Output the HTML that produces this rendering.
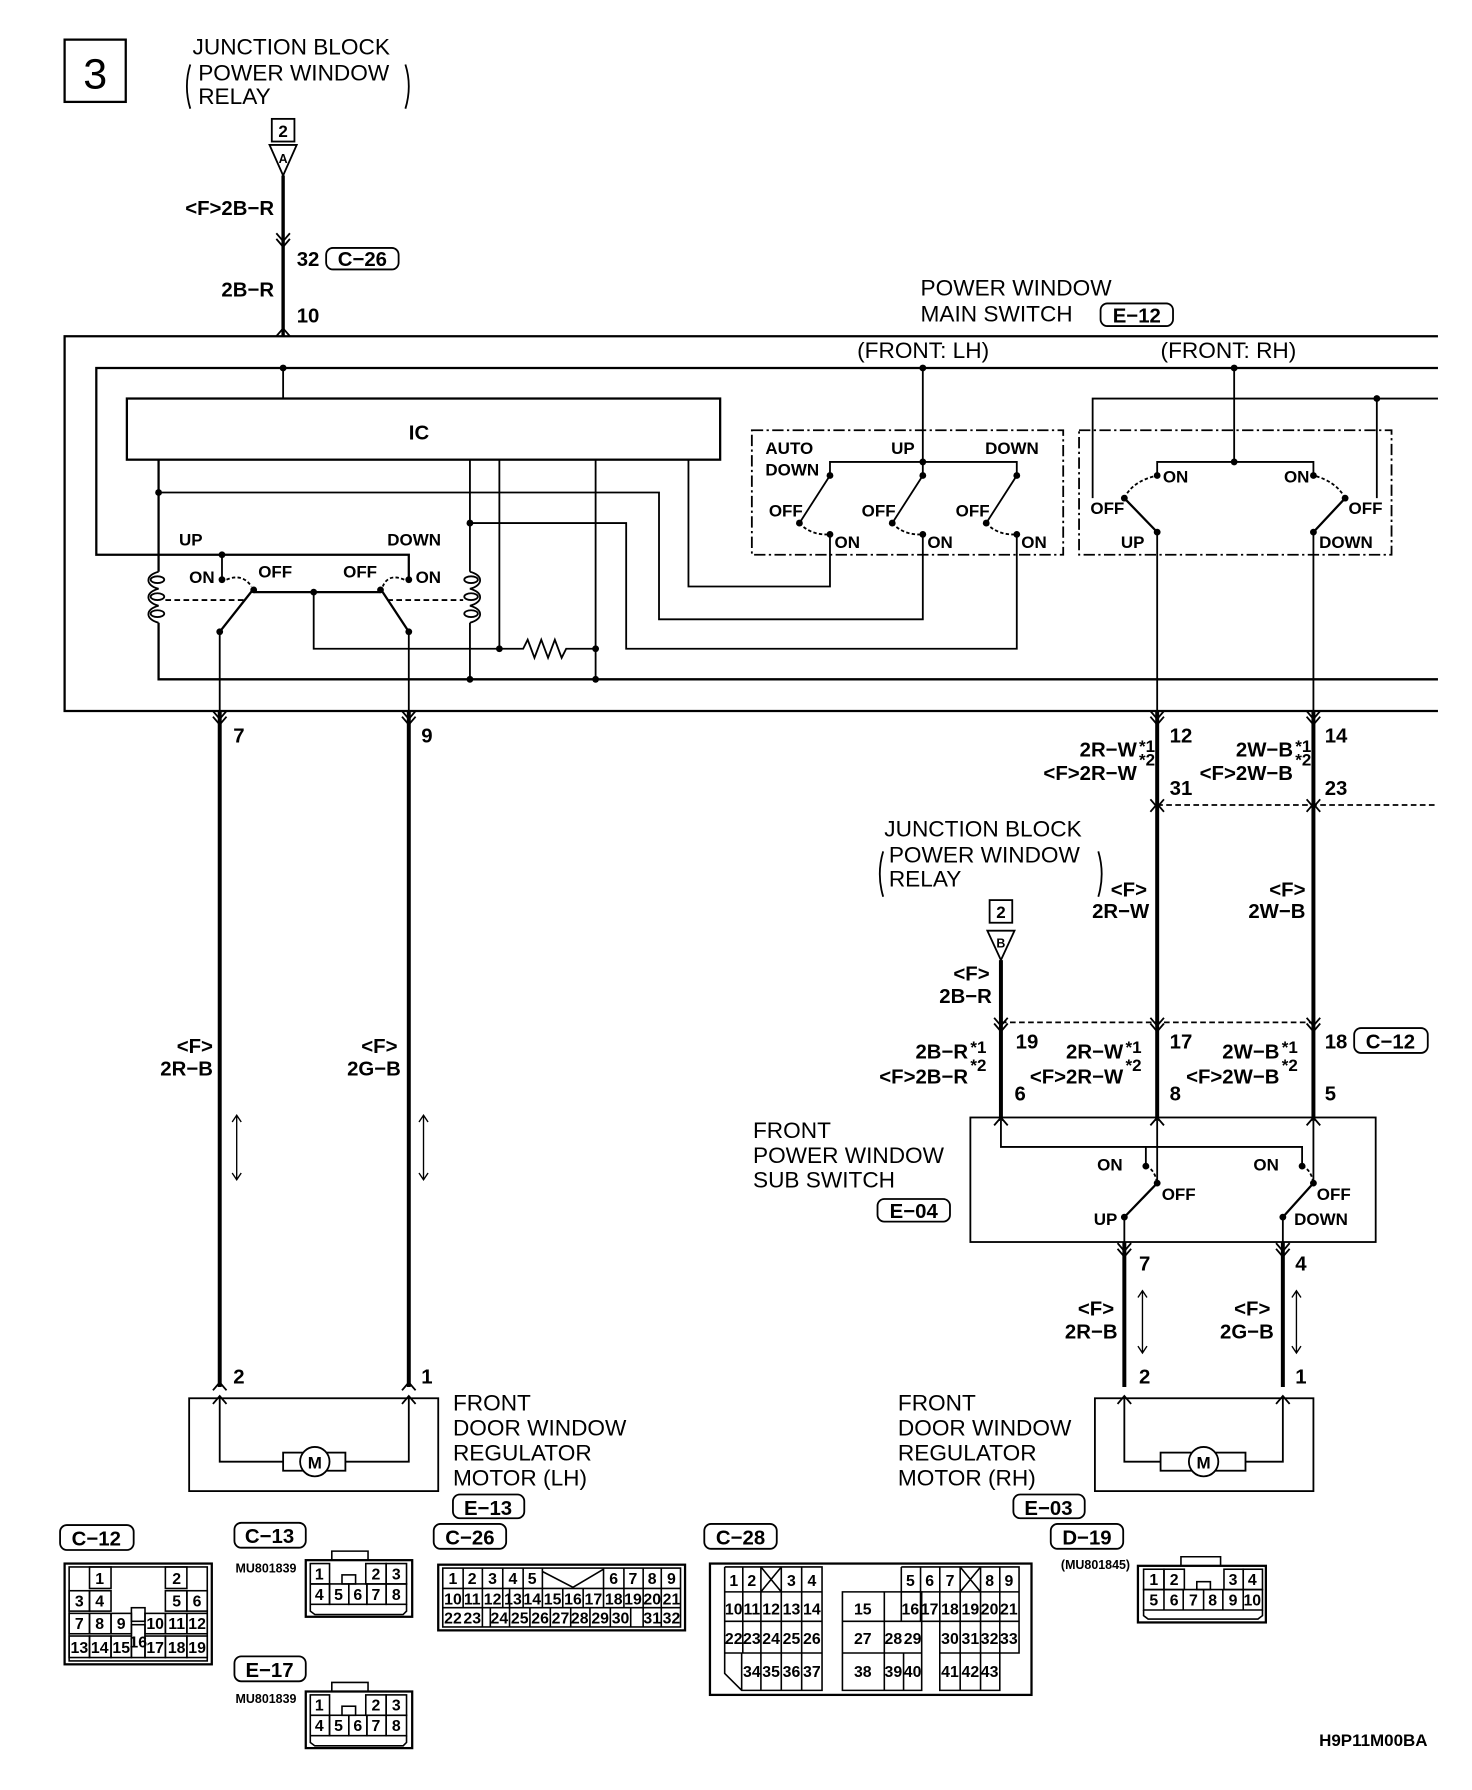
<!DOCTYPE html>
<html><head><meta charset="utf-8"><style>
html,body{margin:0;padding:0;background:#fff}
svg{display:block}
.t{font-family:"Liberation Sans",sans-serif;font-size:20px;fill:#000}
.b{font-family:"Liberation Sans Narrow","Liberation Sans",sans-serif;font-weight:bold;font-size:18px;fill:#000}
.s{font-family:"Liberation Sans Narrow","Liberation Sans",sans-serif;font-weight:bold;font-size:15px;fill:#000}
.xs{font-family:"Liberation Sans Narrow","Liberation Sans",sans-serif;font-weight:bold;font-size:11px;fill:#000}
.c{font-family:"Liberation Sans Narrow","Liberation Sans",sans-serif;font-weight:bold;font-size:14px;fill:#000;text-anchor:middle}
</style></head><body>
<svg width="1472" height="1790" viewBox="0 0 1300 1581" xmlns="http://www.w3.org/2000/svg">
<g fill="none" stroke="#000" stroke-width="1.6">
<!-- 3 box -->
<rect x="57" y="35" width="54" height="55" stroke-width="2"/>
<!-- top junction block -->
<path d="M168 57 Q162 76 168 96 M358 57 Q364 76 358 96"/>
<rect x="240" y="105" width="20" height="20"/>
<path d="M238 128 L262 128 L250 155 Z"/>
<path d="M250 155 V297" stroke-width="3"/>
<path d="M244 206 L250 213 L256 206 M244 211 L250 218 L256 211"/>
<path d="M244 297 L250 290 L256 297"/>
<rect x="288" y="219" width="64" height="19" rx="6"/>
<rect x="972" y="268" width="64" height="20" rx="6"/>
<!-- outer box -->
<path d="M1270 297 H57 V628 H1270" stroke-width="2"/>
<path d="M1270 325 H85 V490 H361 V513" stroke-width="2"/>
<path d="M250 325 V352"/>
<rect x="112" y="352" width="524" height="54" stroke-width="2"/>
<!-- IC bottom wires -->
<path d="M140 406 V505 M140 550 V600 H1270" stroke-width="2"/>
<path d="M140 435 H582 V547 H815 V472"/>
<path d="M415 406 V505 M415 550 V600"/>
<path d="M415 462 H553 V573 H898 V472"/>
<path d="M441 406 V573 M526 406 V600"/>
<path d="M608 406 V518 H733 V472"/>
<path d="M277 523 V573 H462 L466 565 L472 581 L478 565 L484 581 L490 565 L496 581 L500 573 H526"/>
<!-- coils -->
<path d="M140 505 C128 508 128 517 140 520 C128 523 128 532 140 535 C128 538 128 547 140 550"/>
<ellipse cx="139" cy="512" rx="6" ry="3"/><ellipse cx="139" cy="527" rx="6" ry="3"/><ellipse cx="139" cy="542" rx="6" ry="3"/>
<path d="M415 505 C427 508 427 517 415 520 C427 523 427 532 415 535 C427 538 427 547 415 550"/>
<ellipse cx="416" cy="512" rx="6" ry="3"/><ellipse cx="416" cy="527" rx="6" ry="3"/><ellipse cx="416" cy="542" rx="6" ry="3"/>
<path d="M146 530 H215 M342 530 H409" stroke-dasharray="5,3"/>
<!-- relay switches -->
<path d="M196 490 V513"/>
<path d="M224 523 H336" stroke-width="2"/>
<path d="M194 558 L224 520 M361 558 L336 520" stroke-width="2"/>
<path d="M200 512 Q214 506 222 518 M357 512 Q343 506 338 518" stroke-dasharray="3,2"/>
<path d="M194 558 V628 M361 558 V628"/>
<!-- front LH -->
<path d="M815 325 V408 M733 420 V408 H898 V420 M815 408 V420"/>
<rect x="664" y="380" width="275" height="110" stroke-dasharray="10,3,2,3"/>
<path d="M733 420 L706 462 M815 420 L788 462 M898 420 L871 462"/>
<path d="M706 462 Q716 473 733 472 M788 462 Q798 473 815 472 M871 462 Q881 473 898 472" stroke-dasharray="3,2"/>
<!-- front RH -->
<path d="M965 440 V352 H1270 M1216 352 V440 M1090 325 V408 M1022 420 V408 H1160 V420"/>
<rect x="953" y="380" width="276" height="110" stroke-dasharray="10,3,2,3"/>
<path d="M1022 470 L993 440 M1160 470 L1188 440" stroke-width="2"/>
<path d="M993 440 Q1000 425 1022 420 M1188 440 Q1180 425 1160 420" stroke-dasharray="3,2"/>
<path d="M1022 470 V628 M1160 470 V628"/>
<!-- LH lower wires -->
<path d="M194 628 V1225 M361 628 V1225" stroke-width="3.5"/>
<path d="M188 628 L194 635 L200 628 M188 633 L194 640 L200 633 M355 628 L361 635 L367 628 M355 633 L361 640 L367 633"/>
<path d="M188 1228 L194 1221 L200 1228 M355 1228 L361 1221 L367 1228"/>
<path d="M188 1240 L194 1233 L200 1240 M355 1240 L361 1233 L367 1240"/>
<path d="M209 985 V1042 M205 991 L209 985 L213 991 M205 1036 L209 1042 L213 1036 M374 985 V1042 M370 991 L374 985 L378 991 M370 1036 L374 1042 L378 1036" stroke-width="1.2"/>
<rect x="167" y="1235" width="220" height="82"/>
<path d="M194 1235 V1291 H250 M361 1235 V1291 H305"/>
<rect x="250" y="1283" width="55" height="16"/>
<circle cx="278" cy="1291" r="13" fill="#fff"/>
<rect x="400" y="1320" width="63" height="21" rx="6"/>
<!-- RH lower wires -->
<path d="M1022 628 V990 M1160 628 V990 M884 848 V990" stroke-width="3.5"/>
<path d="M1016 628 L1022 635 L1028 628 M1016 633 L1022 640 L1028 633 M1154 628 L1160 635 L1166 628 M1154 633 L1160 640 L1166 633"/>
<path d="M1016 717 L1022 710 L1028 717 M1016 706 L1022 713 L1028 706 M1154 717 L1160 710 L1166 717 M1154 706 L1160 713 L1166 706"/>
<path d="M1022 711 H1270" stroke-dasharray="5,3"/>
<path d="M884 903 H1160" stroke-dasharray="5,3"/>
<path d="M878 899 L884 906 L890 899 M878 904 L884 911 L890 904 M1016 899 L1022 906 L1028 899 M1016 904 L1022 911 L1028 904 M1154 899 L1160 906 L1166 899 M1154 904 L1160 911 L1166 904"/>
<path d="M878 994 L884 987 L890 994 M1016 994 L1022 987 L1028 994 M1154 994 L1160 987 L1166 994"/>
<path d="M780 752 Q774 772 780 792 M970 752 Q976 772 970 792"/>
<rect x="874" y="795" width="20" height="20"/>
<path d="M872 822 L896 822 L884 848 Z"/>
<rect x="1196" y="908" width="65" height="22" rx="6"/>
<!-- sub switch -->
<rect x="857" y="987" width="358" height="110"/>
<path d="M884 990 V1013 H1150 V1030 M1012 1013 V1030"/>
<path d="M1022 990 V1045 M1160 990 V1045"/>
<path d="M993 1075 L1022 1045 M1133 1075 L1160 1045" stroke-width="2"/>
<path d="M1012 1030 Q1020 1033 1022 1045 M1150 1030 Q1158 1033 1160 1045" stroke-dasharray="3,2"/>
<path d="M993 1075 V1097 M1133 1075 V1097"/>
<rect x="775" y="1059" width="64" height="20" rx="6"/>
<path d="M993 1097 V1225 M1133 1097 V1225" stroke-width="3.5"/>
<path d="M987 1098 L993 1105 L999 1098 M987 1103 L993 1110 L999 1103 M1127 1098 L1133 1105 L1139 1098 M1127 1103 L1133 1110 L1139 1103"/>
<path d="M987 1240 L993 1233 L999 1240 M1127 1240 L1133 1233 L1139 1240"/>
<path d="M1009 1140 V1195 M1005 1146 L1009 1140 L1013 1146 M1005 1189 L1009 1195 L1013 1189 M1145 1140 V1195 M1141 1146 L1145 1140 L1149 1146 M1141 1189 L1145 1195 L1149 1189" stroke-width="1.2"/>
<rect x="967" y="1235" width="193" height="82"/>
<path d="M993 1235 V1291 H1025 M1133 1235 V1291 H1100"/>
<rect x="1025" y="1283" width="75" height="16"/>
<circle cx="1063" cy="1291" r="13" fill="#fff"/>
<rect x="895" y="1320" width="63" height="21" rx="6"/>
<!-- connector labels -->
<rect x="53" y="1347" width="65" height="22" rx="6"/>
<rect x="207" y="1345" width="63" height="22" rx="6"/>
<rect x="207" y="1463" width="63" height="22" rx="6"/>
<rect x="383" y="1346" width="64" height="22" rx="6"/>
<rect x="622" y="1346" width="64" height="22" rx="6"/>
<rect x="928" y="1346" width="64" height="22" rx="6"/>
</g>
<g fill="#000">
<circle cx="250" cy="325" r="3"/><circle cx="140" cy="435" r="3"/><circle cx="415" cy="462" r="3"/>
<circle cx="441" cy="573" r="3"/><circle cx="526" cy="573" r="3"/><circle cx="415" cy="600" r="3"/><circle cx="526" cy="600" r="3"/>
<circle cx="196" cy="490" r="3"/><circle cx="196" cy="512" r="3"/><circle cx="361" cy="512" r="3"/><circle cx="224" cy="521" r="3"/><circle cx="336" cy="521" r="3"/><circle cx="277" cy="523" r="3"/><circle cx="194" cy="558" r="3"/><circle cx="361" cy="558" r="3"/>
<circle cx="815" cy="325" r="3"/><circle cx="815" cy="408" r="3"/><circle cx="1090" cy="325" r="3"/><circle cx="1090" cy="408" r="3"/><circle cx="1216" cy="352" r="3"/>
<circle cx="733" cy="420" r="3"/><circle cx="815" cy="420" r="3"/><circle cx="898" cy="420" r="3"/>
<circle cx="706" cy="462" r="3"/><circle cx="788" cy="462" r="3"/><circle cx="871" cy="462" r="3"/>
<circle cx="733" cy="472" r="3"/><circle cx="815" cy="472" r="3"/><circle cx="898" cy="472" r="3"/>
<circle cx="1022" cy="420" r="3"/><circle cx="1160" cy="420" r="3"/><circle cx="993" cy="440" r="3"/><circle cx="1188" cy="440" r="3"/><circle cx="1022" cy="470" r="3"/><circle cx="1160" cy="470" r="3"/>
<circle cx="1012" cy="1030" r="3"/><circle cx="1150" cy="1030" r="3"/><circle cx="1022" cy="1045" r="3"/><circle cx="1160" cy="1045" r="3"/><circle cx="993" cy="1075" r="3"/><circle cx="1133" cy="1075" r="3"/>
</g>
<!-- text -->
<text x="84" y="78" text-anchor="middle" style="font-family:'Liberation Sans',sans-serif;font-size:38px">3</text>
<text class="t" x="170" y="48">JUNCTION BLOCK</text>
<text class="t" x="175" y="71">POWER WINDOW</text>
<text class="t" x="175" y="92">RELAY</text>
<text class="s" x="250" y="121" text-anchor="middle">2</text>
<text class="xs" x="250" y="144" text-anchor="middle">A</text>
<text class="b" x="242" y="190" text-anchor="end">&lt;F&gt;2B−R</text>
<text class="b" x="262" y="235">32</text>
<text class="b" x="320" y="235" text-anchor="middle">C−26</text>
<text class="b" x="242" y="262" text-anchor="end">2B−R</text>
<text class="b" x="262" y="285">10</text>
<text class="t" x="813" y="261">POWER WINDOW</text>
<text class="t" x="813" y="284">MAIN SWITCH</text>
<text class="b" x="1004" y="285" text-anchor="middle">E−12</text>
<text class="t" x="757" y="316">(FRONT: LH)</text>
<text class="t" x="1025" y="316">(FRONT: RH)</text>
<text x="370" y="388" text-anchor="middle" class="b">IC</text>
<text class="s" x="158" y="482">UP</text><text class="s" x="342" y="482">DOWN</text>
<text class="s" x="167" y="515">ON</text><text class="s" x="228" y="510">OFF</text><text class="s" x="303" y="510">OFF</text><text class="s" x="367" y="515">ON</text>
<text class="s" x="676" y="401">AUTO</text><text class="s" x="676" y="420">DOWN</text>
<text class="s" x="787" y="401">UP</text><text class="s" x="870" y="401">DOWN</text>
<text class="s" x="679" y="456">OFF</text><text class="s" x="761" y="456">OFF</text><text class="s" x="844" y="456">OFF</text>
<text class="s" x="737" y="484">ON</text><text class="s" x="819" y="484">ON</text><text class="s" x="902" y="484">ON</text>
<text class="s" x="1027" y="426">ON</text><text class="s" x="1134" y="426">ON</text>
<text class="s" x="963" y="454">OFF</text><text class="s" x="1191" y="454">OFF</text>
<text class="s" x="990" y="484">UP</text><text class="s" x="1165" y="484">DOWN</text>
<text class="b" x="206" y="656">7</text><text class="b" x="372" y="656">9</text>
<text class="b" x="172" y="930" text-anchor="middle">&lt;F&gt;</text><text class="b" x="188" y="950" text-anchor="end">2R−B</text>
<text class="b" x="335" y="930" text-anchor="middle">&lt;F&gt;</text><text class="b" x="354" y="950" text-anchor="end">2G−B</text>
<text class="b" x="206" y="1222">2</text><text class="b" x="372" y="1222">1</text>
<text x="278" y="1297" class="s" text-anchor="middle">M</text>
<text class="t" x="400" y="1246">FRONT</text><text class="t" x="400" y="1268">DOOR WINDOW</text><text class="t" x="400" y="1290">REGULATOR</text><text class="t" x="400" y="1312">MOTOR (LH)</text>
<text class="b" x="431" y="1338" text-anchor="middle">E−13</text>
<text class="b" x="1033" y="656">12</text><text class="b" x="1170" y="656">14</text>
<text class="b" x="1004" y="668" text-anchor="end">2R−W</text><text class="s" x="1006" y="664">*1</text>
<text class="b" x="1004" y="689" text-anchor="end">&lt;F&gt;2R−W</text><text class="s" x="1006" y="676">*2</text>
<text class="b" x="1142" y="668" text-anchor="end">2W−B</text><text class="s" x="1144" y="664">*1</text>
<text class="b" x="1142" y="689" text-anchor="end">&lt;F&gt;2W−B</text><text class="s" x="1144" y="676">*2</text>
<text class="b" x="1033" y="702">31</text><text class="b" x="1170" y="702">23</text>
<text class="t" x="781" y="739">JUNCTION BLOCK</text><text class="t" x="785" y="762">POWER WINDOW</text><text class="t" x="785" y="783">RELAY</text>
<text class="b" x="997" y="792" text-anchor="middle">&lt;F&gt;</text><text class="b" x="1015" y="811" text-anchor="end">2R−W</text>
<text class="b" x="1137" y="792" text-anchor="middle">&lt;F&gt;</text><text class="b" x="1153" y="811" text-anchor="end">2W−B</text>
<text class="s" x="884" y="811" text-anchor="middle">2</text><text class="xs" x="884" y="837" text-anchor="middle">B</text>
<text class="b" x="858" y="866" text-anchor="middle">&lt;F&gt;</text><text class="b" x="876" y="886" text-anchor="end">2B−R</text>
<text class="b" x="897" y="926">19</text><text class="b" x="1033" y="926">17</text><text class="b" x="1170" y="926">18</text>
<text class="b" x="1228" y="926" text-anchor="middle">C−12</text>
<text class="b" x="855" y="935" text-anchor="end">2B−R</text><text class="s" x="857" y="930">*1</text>
<text class="b" x="855" y="957" text-anchor="end">&lt;F&gt;2B−R</text><text class="s" x="857" y="946">*2</text>
<text class="b" x="992" y="935" text-anchor="end">2R−W</text><text class="s" x="994" y="930">*1</text>
<text class="b" x="992" y="957" text-anchor="end">&lt;F&gt;2R−W</text><text class="s" x="994" y="946">*2</text>
<text class="b" x="1130" y="935" text-anchor="end">2W−B</text><text class="s" x="1132" y="930">*1</text>
<text class="b" x="1130" y="957" text-anchor="end">&lt;F&gt;2W−B</text><text class="s" x="1132" y="946">*2</text>
<text class="b" x="896" y="972">6</text><text class="b" x="1033" y="972">8</text><text class="b" x="1170" y="972">5</text>
<text class="t" x="665" y="1005">FRONT</text><text class="t" x="665" y="1027">POWER WINDOW</text><text class="t" x="665" y="1049">SUB SWITCH</text>
<text class="b" x="807" y="1076" text-anchor="middle">E−04</text>
<text class="s" x="969" y="1034">ON</text><text class="s" x="1107" y="1034">ON</text>
<text class="s" x="1026" y="1060">OFF</text><text class="s" x="1163" y="1060">OFF</text>
<text class="s" x="966" y="1082">UP</text><text class="s" x="1143" y="1082">DOWN</text>
<text class="b" x="1006" y="1122">7</text><text class="b" x="1144" y="1122">4</text>
<text class="b" x="968" y="1162" text-anchor="middle">&lt;F&gt;</text><text class="b" x="987" y="1182" text-anchor="end">2R−B</text>
<text class="b" x="1106" y="1162" text-anchor="middle">&lt;F&gt;</text><text class="b" x="1125" y="1182" text-anchor="end">2G−B</text>
<text class="b" x="1006" y="1222">2</text><text class="b" x="1144" y="1222">1</text>
<text x="1063" y="1297" class="s" text-anchor="middle">M</text>
<text class="t" x="793" y="1246">FRONT</text><text class="t" x="793" y="1268">DOOR WINDOW</text><text class="t" x="793" y="1290">REGULATOR</text><text class="t" x="793" y="1312">MOTOR (RH)</text>
<text class="b" x="926" y="1338" text-anchor="middle">E−03</text>
<!-- connector labels -->
<text class="b" x="85" y="1365" text-anchor="middle">C−12</text>
<text class="b" x="238" y="1363" text-anchor="middle">C−13</text>
<text class="b" x="238" y="1481" text-anchor="middle">E−17</text>
<text class="b" x="415" y="1364" text-anchor="middle">C−26</text>
<text class="b" x="654" y="1364" text-anchor="middle">C−28</text>
<text class="b" x="960" y="1364" text-anchor="middle">D−19</text>
<text class="xs" x="208" y="1389">MU801839</text>
<text class="xs" x="208" y="1504">MU801839</text>
<text class="xs" x="937" y="1386">(MU801845)</text>
<text class="s" x="1165" y="1542">H9P11M00BA</text>
<!-- connectors -->
<g fill="none" stroke="#000" stroke-width="1.4">
<!-- C-12 -->
<rect x="57" y="1381" width="130" height="89" stroke-width="2"/>
<rect x="61" y="1384" width="122" height="83"/>
<rect x="79" y="1384" width="19" height="19"/><rect x="146" y="1384" width="19" height="19"/>
<rect x="61" y="1405" width="18" height="18"/><rect x="79" y="1405" width="19" height="18"/><rect x="146" y="1405" width="19" height="18"/><rect x="165" y="1405" width="18" height="18"/>
<rect x="61" y="1425" width="18" height="18"/><rect x="79" y="1425" width="19" height="18"/><rect x="98" y="1425" width="18" height="18"/><rect x="116" y="1420" width="12" height="12"/><rect x="128" y="1425" width="18" height="18"/><rect x="146" y="1425" width="19" height="18"/><rect x="165" y="1425" width="18" height="18"/>
<rect x="61" y="1445" width="18" height="19"/><rect x="79" y="1445" width="19" height="19"/><rect x="98" y="1445" width="18" height="19"/><rect x="116" y="1435" width="12" height="29"/><rect x="128" y="1445" width="18" height="19"/><rect x="146" y="1445" width="19" height="19"/><rect x="165" y="1445" width="18" height="19"/>
<!-- C-13 / E-17 -->
<g id="c13"><rect x="270" y="1378" width="94" height="50" stroke-width="2"/><path d="M293 1378 V1370 H325 V1378"/>
<rect x="274" y="1381" width="17" height="18"/><rect x="323" y="1381" width="18" height="18"/><rect x="341" y="1381" width="18" height="18"/>
<rect x="274" y="1399" width="17" height="18"/><rect x="291" y="1399" width="17" height="18"/><rect x="308" y="1399" width="16" height="18"/><rect x="324" y="1399" width="17" height="18"/><rect x="341" y="1399" width="18" height="18"/>
<rect x="302" y="1391" width="12" height="8"/><path d="M274 1417 V1423 L278 1426 H356 L359 1423 V1417"/></g>
<use href="#c13" transform="translate(0,116)"/>
<!-- C-26 -->
<rect x="387" y="1382" width="218" height="58" stroke-width="2"/>
<rect x="391" y="1385" width="210" height="52"/>
<path d="M391 1403 H601 M391 1420 H601"/>
<path d="M409 1385 V1420 M426 1385 V1437 M444 1385 V1420 M462 1385 V1420 M479 1385 V1420 M479 1388 L506 1402 L533 1386 M533 1385 V1420 M551 1385 V1420 M568 1385 V1437 M584 1385 V1437 M497 1403 V1420 M515 1403 V1420 M433 1420 V1437 M450 1403 V1437 M468 1420 V1437 M486 1420 V1437 M504 1420 V1437 M521 1420 V1437 M539 1420 V1437 M557 1420 V1437"/>
<!-- C-28 -->
<rect x="627" y="1381" width="284" height="116" stroke-width="2"/>
<path d="M640 1384 V1478 L655 1493 H726 V1384 H640 M640 1406 H726 M640 1432 H726 M640 1460 H726 M656 1384 V1460 M672 1384 V1493 M690 1384 V1493 M708 1384 V1493 M655 1460 V1493"/>
<path d="M672 1384 L690 1406 M690 1384 L672 1406"/>
<path d="M744 1406 H814 V1493 H744 Z M744 1432 H900 M744 1460 H814 M781 1432 V1493 M798 1460 V1493 M781 1406 V1432"/>
<path d="M796 1384 H900 V1460 H883 V1493 H830 V1406 M796 1384 V1432 M813 1384 V1432 M830 1384 V1406 M848 1384 V1493 M866 1384 V1493 M883 1384 V1460 M796 1406 H900 M830 1460 H883"/>
<path d="M848 1384 L866 1406 M866 1384 L848 1406"/>
<!-- D-19 -->
<rect x="1005" y="1383" width="113" height="50" stroke-width="2"/><path d="M1043 1383 V1375 H1078 V1383"/>
<rect x="1010" y="1386" width="18" height="18"/><rect x="1028" y="1386" width="18" height="18"/><rect x="1081" y="1386" width="17" height="18"/><rect x="1098" y="1386" width="17" height="18"/>
<path d="M1010 1404 H1115 V1422 H1010 Z M1028 1404 V1422 M1045 1404 V1422 M1063 1404 V1422 M1080 1404 V1422 M1098 1404 V1422"/>
<rect x="1057" y="1397" width="12" height="7"/><path d="M1010 1422 V1427 L1014 1430 H1111 L1115 1427 V1422"/>
</g>
<g class="c">
<text class="c" x="88" y="1399">1</text><text class="c" x="156" y="1399">2</text>
<text class="c" x="70" y="1419">3</text><text class="c" x="88" y="1419">4</text><text class="c" x="156" y="1419">5</text><text class="c" x="174" y="1419">6</text>
<text class="c" x="70" y="1439">7</text><text class="c" x="88" y="1439">8</text><text class="c" x="107" y="1439">9</text><text class="c" x="137" y="1439">10</text><text class="c" x="156" y="1439">11</text><text class="c" x="174" y="1439">12</text>
<text class="c" x="70" y="1460">13</text><text class="c" x="88" y="1460">14</text><text class="c" x="107" y="1460">15</text><text class="c" x="122" y="1455">16</text><text class="c" x="137" y="1460">17</text><text class="c" x="156" y="1460">18</text><text class="c" x="174" y="1460">19</text>
<text class="c" x="282" y="1395">1</text><text class="c" x="332" y="1395">2</text><text class="c" x="350" y="1395">3</text>
<text class="c" x="282" y="1413">4</text><text class="c" x="299" y="1413">5</text><text class="c" x="316" y="1413">6</text><text class="c" x="332" y="1413">7</text><text class="c" x="350" y="1413">8</text>
<text class="c" x="282" y="1511">1</text><text class="c" x="332" y="1511">2</text><text class="c" x="350" y="1511">3</text>
<text class="c" x="282" y="1529">4</text><text class="c" x="299" y="1529">5</text><text class="c" x="316" y="1529">6</text><text class="c" x="332" y="1529">7</text><text class="c" x="350" y="1529">8</text>
<text class="c" x="400" y="1399">1</text><text class="c" x="417" y="1399">2</text><text class="c" x="435" y="1399">3</text><text class="c" x="453" y="1399">4</text><text class="c" x="470" y="1399">5</text><text class="c" x="542" y="1399">6</text><text class="c" x="559" y="1399">7</text><text class="c" x="576" y="1399">8</text><text class="c" x="593" y="1399">9</text>
<text class="c" x="400" y="1417">10</text><text class="c" x="417" y="1417">11</text><text class="c" x="435" y="1417">12</text><text class="c" x="453" y="1417">13</text><text class="c" x="470" y="1417">14</text><text class="c" x="488" y="1417">15</text><text class="c" x="506" y="1417">16</text><text class="c" x="524" y="1417">17</text><text class="c" x="542" y="1417">18</text><text class="c" x="559" y="1417">19</text><text class="c" x="576" y="1417">20</text><text class="c" x="593" y="1417">21</text>
<text class="c" x="400" y="1434">22</text><text class="c" x="417" y="1434">23</text><text class="c" x="441" y="1434">24</text><text class="c" x="459" y="1434">25</text><text class="c" x="477" y="1434">26</text><text class="c" x="495" y="1434">27</text><text class="c" x="512" y="1434">28</text><text class="c" x="530" y="1434">29</text><text class="c" x="548" y="1434">30</text><text class="c" x="576" y="1434">31</text><text class="c" x="593" y="1434">32</text>
<text class="c" x="648" y="1401">1</text><text class="c" x="664" y="1401">2</text><text class="c" x="699" y="1401">3</text><text class="c" x="717" y="1401">4</text><text class="c" x="804" y="1401">5</text><text class="c" x="821" y="1401">6</text><text class="c" x="839" y="1401">7</text><text class="c" x="874" y="1401">8</text><text class="c" x="891" y="1401">9</text>
<text class="c" x="648" y="1426">10</text><text class="c" x="664" y="1426">11</text><text class="c" x="681" y="1426">12</text><text class="c" x="699" y="1426">13</text><text class="c" x="717" y="1426">14</text><text class="c" x="762" y="1426">15</text><text class="c" x="804" y="1426">16</text><text class="c" x="821" y="1426">17</text><text class="c" x="839" y="1426">18</text><text class="c" x="857" y="1426">19</text><text class="c" x="874" y="1426">20</text><text class="c" x="891" y="1426">21</text>
<text class="c" x="648" y="1452">22</text><text class="c" x="664" y="1452">23</text><text class="c" x="681" y="1452">24</text><text class="c" x="699" y="1452">25</text><text class="c" x="717" y="1452">26</text><text class="c" x="762" y="1452">27</text><text class="c" x="789" y="1452">28</text><text class="c" x="806" y="1452">29</text><text class="c" x="839" y="1452">30</text><text class="c" x="857" y="1452">31</text><text class="c" x="874" y="1452">32</text><text class="c" x="891" y="1452">33</text>
<text class="c" x="664" y="1481">34</text><text class="c" x="681" y="1481">35</text><text class="c" x="699" y="1481">36</text><text class="c" x="717" y="1481">37</text><text class="c" x="762" y="1481">38</text><text class="c" x="789" y="1481">39</text><text class="c" x="806" y="1481">40</text><text class="c" x="839" y="1481">41</text><text class="c" x="857" y="1481">42</text><text class="c" x="874" y="1481">43</text>
<text class="c" x="1019" y="1400">1</text><text class="c" x="1037" y="1400">2</text><text class="c" x="1089" y="1400">3</text><text class="c" x="1106" y="1400">4</text>
<text class="c" x="1019" y="1418">5</text><text class="c" x="1037" y="1418">6</text><text class="c" x="1054" y="1418">7</text><text class="c" x="1071" y="1418">8</text><text class="c" x="1089" y="1418">9</text><text class="c" x="1106" y="1418">10</text>
</g>
</svg>
</body></html>
